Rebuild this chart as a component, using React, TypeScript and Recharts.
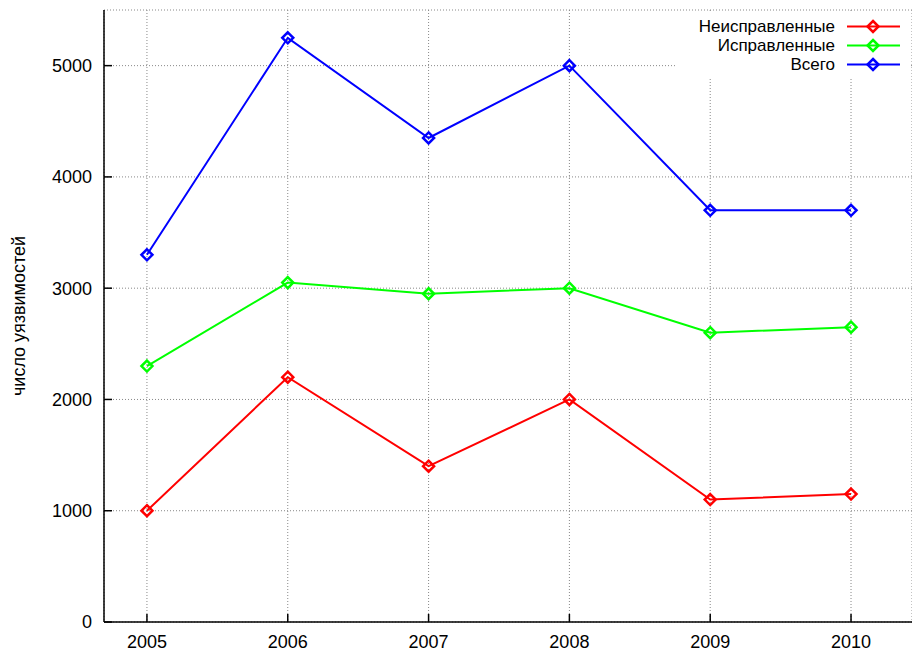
import { CartesianGrid, Legend, Line, LineChart, XAxis, YAxis } from 'recharts';

const years = [2005, 2006, 2007, 2008, 2009, 2010];
const unfixed = [1000, 2200, 1400, 2000, 1100, 1150];
const fixed = [2300, 3050, 2950, 3000, 2600, 2650];
const total = [3300, 5250, 4350, 5000, 3700, 3700];
const yTicks = [0, 1000, 2000, 3000, 4000, 5000];

const series = [
  { key: 'unfixed', name: 'Неисправленные', color: '#ff0000' },
  { key: 'fixed', name: 'Исправленные', color: '#00ff00' },
  { key: 'total', name: 'Всего', color: '#0000ff' },
];

const data = years.map((year, i) => ({
  year,
  unfixed: unfixed[i],
  fixed: fixed[i],
  total: total[i],
}));

const FONT = '"Liberation Sans", Arial, Helvetica, sans-serif';

function Diamond(props: any) {
  const { cx, cy, stroke } = props;
  if (cx == null || cy == null) return null;
  const r = 5.5;
  return (
    <path
      d={`M${cx},${cy - r} L${cx + r},${cy} L${cx},${cy + r} L${cx - r},${cy} Z`}
      fill="none"
      stroke={stroke}
      strokeWidth={2.5}
    />
  );
}

function LegendBox() {
  return (
    <div
      style={{
        background: '#fff',
        padding: '4px 10px 4px 0',
        fontFamily: FONT,
        fontSize: 17,
        lineHeight: '19px',
        color: '#000',
      }}
    >
      {series.map((s) => (
        <div key={s.key} style={{ display: 'flex', alignItems: 'center', height: 19 }}>
          <span style={{ flex: 1, textAlign: 'right', paddingRight: 12, whiteSpace: 'nowrap' }}>{s.name}</span>
          <svg width={53} height={19} style={{ display: 'block' }}>
            <line x1={0} y1={9.5} x2={53} y2={9.5} stroke={s.color} strokeWidth={2} />
            <Diamond cx={26} cy={9.5} stroke={s.color} />
          </svg>
        </div>
      ))}
    </div>
  );
}

export default function App() {
  return (
    <div style={{ position: 'absolute', left: 0, top: 0, width: 912, height: 655, background: '#fff' }}>
      <LineChart width={912} height={655} data={data} margin={{ top: 10, right: 0, left: 0, bottom: 0 }}>
        <CartesianGrid stroke="#888" strokeDasharray="1 2" strokeWidth={1} />
        <XAxis
          dataKey="year"
          type="number"
          domain={[2004.695, 2010.433]}
          allowDataOverflow
          ticks={years}
          height={33}
          stroke="#000"
          strokeWidth={1.5}
          tickSize={-8}
          tickMargin={21}
          tick={{ fill: '#000', fontSize: 18, fontFamily: FONT }}
        />
        <YAxis
          type="number"
          domain={[0, 5500]}
          ticks={yTicks}
          width={104}
          stroke="#000"
          strokeWidth={1.5}
          tickSize={-8}
          tickMargin={20}
          tick={{ fill: '#000', fontSize: 18, fontFamily: FONT }}
          label={{
            content: (props: any) => {
              const vb = props.viewBox || { x: 0, y: 10, height: 612 };
              const lx = vb.x + 19;
              const ly = vb.y + vb.height / 2;
              return (
                <text
                  x={lx}
                  y={ly}
                  transform={`rotate(-90, ${lx}, ${ly})`}
                  textAnchor="middle"
                  dominantBaseline="central"
                  fill="#000"
                  fontSize={18}
                  fontFamily={FONT}
                >
                  число уязвимостей
                </text>
              );
            },
          }}
        />
        <Legend
          layout="horizontal"
          verticalAlign="middle"
          align="center"
          wrapperStyle={{ top: 13, left: 677, width: 233 }}
          content={() => <LegendBox />}
        />
        {series.map((s) => (
          <Line
            key={s.key}
            dataKey={s.key}
            name={s.name}
            stroke={s.color}
            strokeWidth={2}
            dot={<Diamond />}
            activeDot={false}
            isAnimationActive={false}
          />
        ))}
      </LineChart>
    </div>
  );
}
